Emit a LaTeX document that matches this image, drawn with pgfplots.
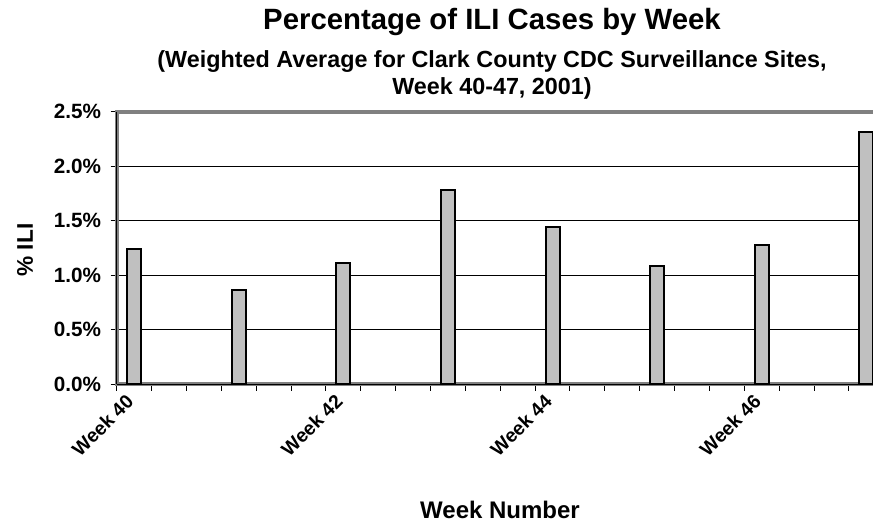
\documentclass[border=0pt]{standalone}
\usepackage{fontspec}
\setmainfont{Liberation Sans}
\usepackage{pgfplots}
\pgfplotsset{compat=1.18}
\definecolor{barfill}{HTML}{C0C0C0}
\definecolor{bordergray}{HTML}{808080}
\begin{document}
\begin{tikzpicture}
\useasboundingbox (0,0) rectangle (654.75pt,393.75pt);
\begin{axis}[
  at={(87.5pt,105.75pt)}, anchor=south west,
  scale only axis, width=570.07pt, height=204.25pt,
  xmin=39.83333, xmax=47.1, ymin=0, ymax=2.5,
  clip=false,
  /pgf/number format/assume math mode=true,
  ytick={0,0.5,1,1.5,2,2.5},
  yticklabel={\pgfmathprintnumber[fixed,fixed zerofill,precision=1]{\tick}\%},
  xtick={40,42,44,46},
  xticklabels={Week 40,Week 42,Week 44,Week 46},
  minor xtick={39.83333,40.16667,...,47.1},
  major x tick style={draw=none},
  minor x tick style={black, line width=0.75pt},
  minor tick length=5pt,
  xticklabel style={rotate=45, anchor=east, xshift=-3pt, yshift=-2pt, font=\bfseries\fontsize{14.5}{17}\selectfont},
  yticklabel style={font=\bfseries\fontsize{15.5}{18}\selectfont, xshift=-3.75pt},
  xtick pos=bottom, ytick pos=left,
  tick align=outside,
  major tick length=4.5pt,
  tick style={black, line width=0.75pt},
  axis line style={bordergray, line width=3pt},
  ymajorgrids,
  grid style={black, line width=0.6pt},
]
\addplot[ybar, bar width=10.5pt, bar shift=0pt, fill=barfill, draw=black, line width=1.5pt]
  coordinates {(40,1.24) (41,0.86) (42,1.11) (43,1.78) (44,1.44) (45,1.08) (46,1.28) (47,2.31)};
\draw[black, line width=0.75pt] (rel axis cs:0,0) -- (rel axis cs:0,1);
\draw[black, line width=0.75pt] (rel axis cs:0,0) -- (rel axis cs:1,0);
\end{axis}
\node[font=\bfseries\fontsize{22}{26}\selectfont] at (369pt,377.25pt) {Percentage of ILI Cases by Week};
\node[font=\bfseries\fontsize{17.5}{20}\selectfont] at (369pt,347.25pt) {(Weighted Average for Clark County CDC Surveillance Sites,};
\node[font=\bfseries\fontsize{17.5}{20}\selectfont] at (369pt,327.75pt) {Week 40-47, 2001)};
\node[font=\bfseries\fontsize{18}{21}\selectfont] at (375pt,11.25pt) {Week Number};
\node[font=\bfseries\fontsize{17}{20}\selectfont, rotate=90] at (18.75pt,206.25pt) {\% ILI};
\end{tikzpicture}
\end{document}
